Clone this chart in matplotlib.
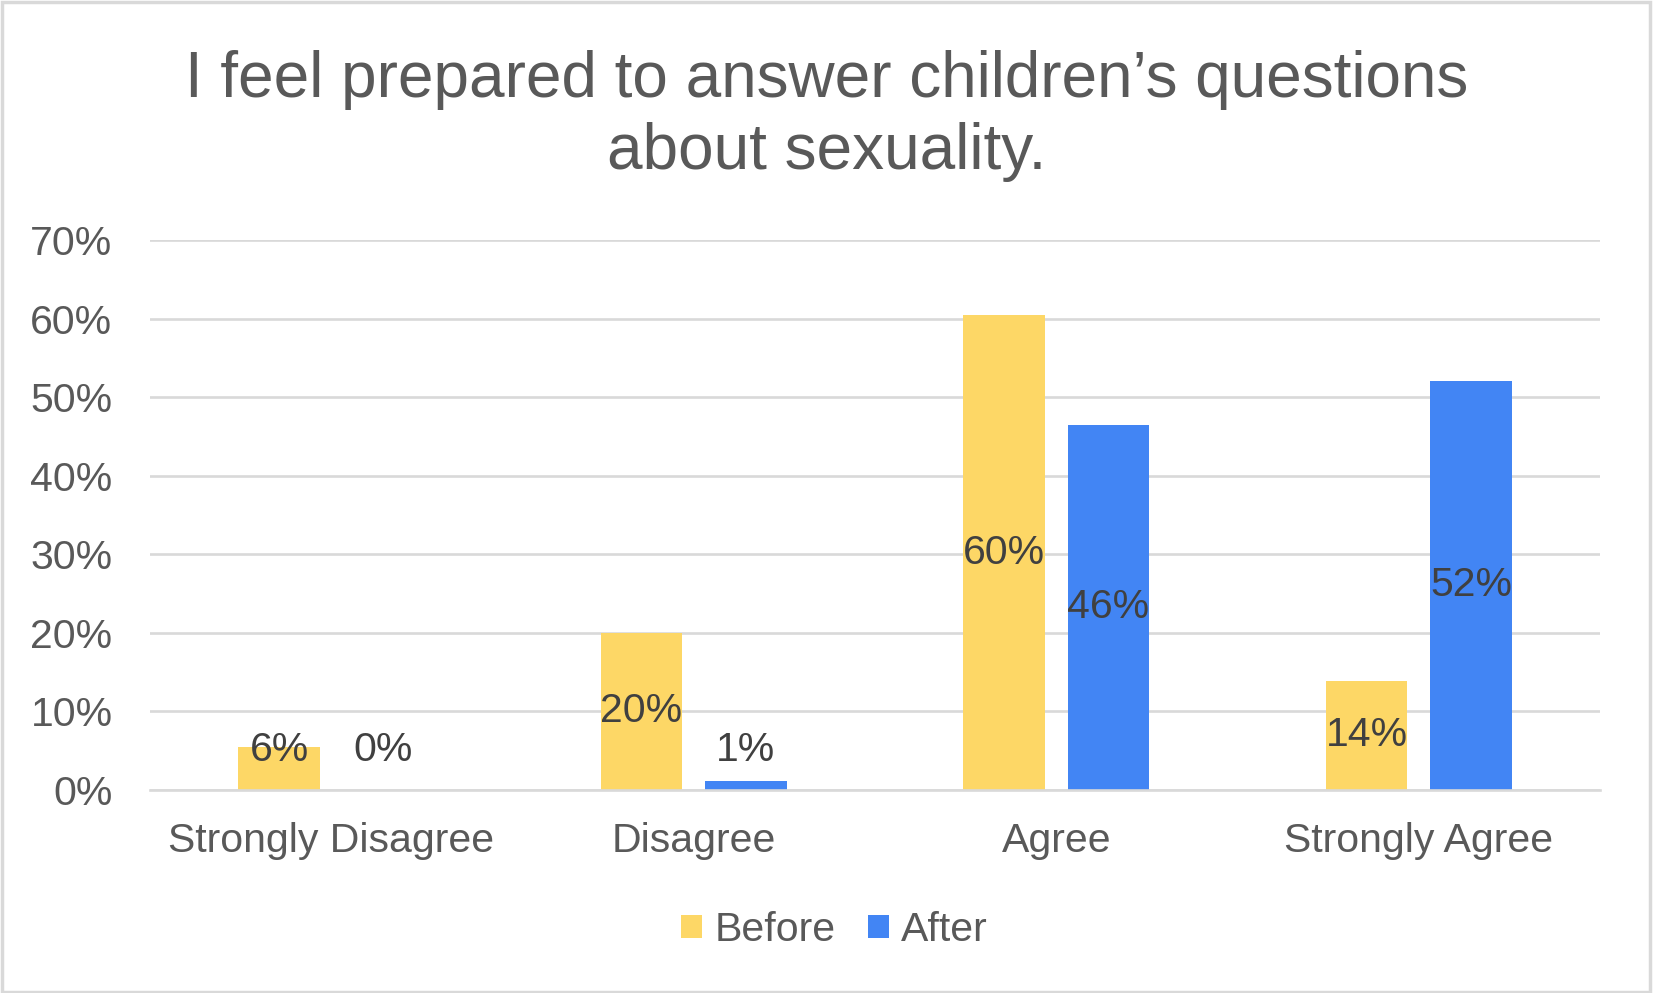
import matplotlib
matplotlib.use("Agg")
import matplotlib.pyplot as plt
import numpy as np
from matplotlib.patches import Rectangle

categories = ["Strongly Disagree", "Disagree", "Agree", "Strongly Agree"]
before = [5.5, 20.0, 60.4, 13.9]
after = [0.0, 1.2, 46.5, 52.1]
before_labels = ["6%", "20%", "60%", "14%"]
after_labels = ["0%", "1%", "46%", "52%"]
yticks = [0, 10, 20, 30, 40, 50, 60, 70]
title = "I feel prepared to answer children\u2019s questions\nabout sexuality."

plt.rcParams['font.family'] = ['Liberation Sans', 'DejaVu Sans']

W, H = 1653, 993
fig = plt.figure(figsize=(W / 100, H / 100), dpi=100)
fig.patch.set_facecolor("white")
fig.add_artist(Rectangle((0.001, 0.001), 0.997, 0.997, transform=fig.transFigure,
                         fill=False, edgecolor="#d9d9d9", linewidth=2.5))

ax = fig.add_axes([150 / W, 1 - 790 / H, 1450 / W, 550 / H])
x = np.arange(len(categories))
bw = 0.224
off = 0.144
c_before = "#FDD766"
c_after = "#4285F4"
ax.bar(x - off, before, bw, color=c_before, label="Before", zorder=3)
ax.bar(x + off, after, bw, color=c_after, label="After", zorder=3)

fs = 29.5
ax.set_xlim(-0.5, len(categories) - 0.5)
ax.set_ylim(0, 70)
ax.set_yticks(yticks)
ax.set_yticklabels([f"{t}%" for t in yticks])
ax.set_xticks(x)
ax.set_xticklabels(categories)
ax.tick_params(axis='both', length=0, labelsize=fs, colors="#595959")
ax.tick_params(axis='y', pad=27)
ax.tick_params(axis='x', pad=23)
ax.grid(axis='y', color="#d9d9d9", linewidth=1.9, zorder=0)
for s in ["top", "right", "left"]:
    ax.spines[s].set_visible(False)
ax.spines["bottom"].set_color("#d9d9d9")
ax.spines["bottom"].set_linewidth(1.9)
ax.spines["bottom"].set_zorder(4)

minpos = 5.1
for xi, v, lab in zip(x - off, before, before_labels):
    ax.text(xi, max(v / 2, minpos), lab, ha="center", va="center", fontsize=fs,
            color="#404040", zorder=5)
for xi, v, lab in zip(x + off, after, after_labels):
    ax.text(xi, max(v / 2, minpos), lab, ha="center", va="center", fontsize=fs,
            color="#404040", zorder=5)

fig.text(0.5, 1 - 116 / H, title, ha="center", va="center", fontsize=46,
         color="#595959", linespacing=1.26)

leg = fig.legend(loc="center", bbox_to_anchor=(0.5 + 8 / W, 1 - 930 / H), ncol=2,
                 frameon=False, fontsize=fs, handlelength=0.5, handleheight=0.5,
                 handletextpad=0.3, columnspacing=0.8)
for t in leg.get_texts():
    t.set_color("#595959")

fig.savefig("out.png", dpi=100)
